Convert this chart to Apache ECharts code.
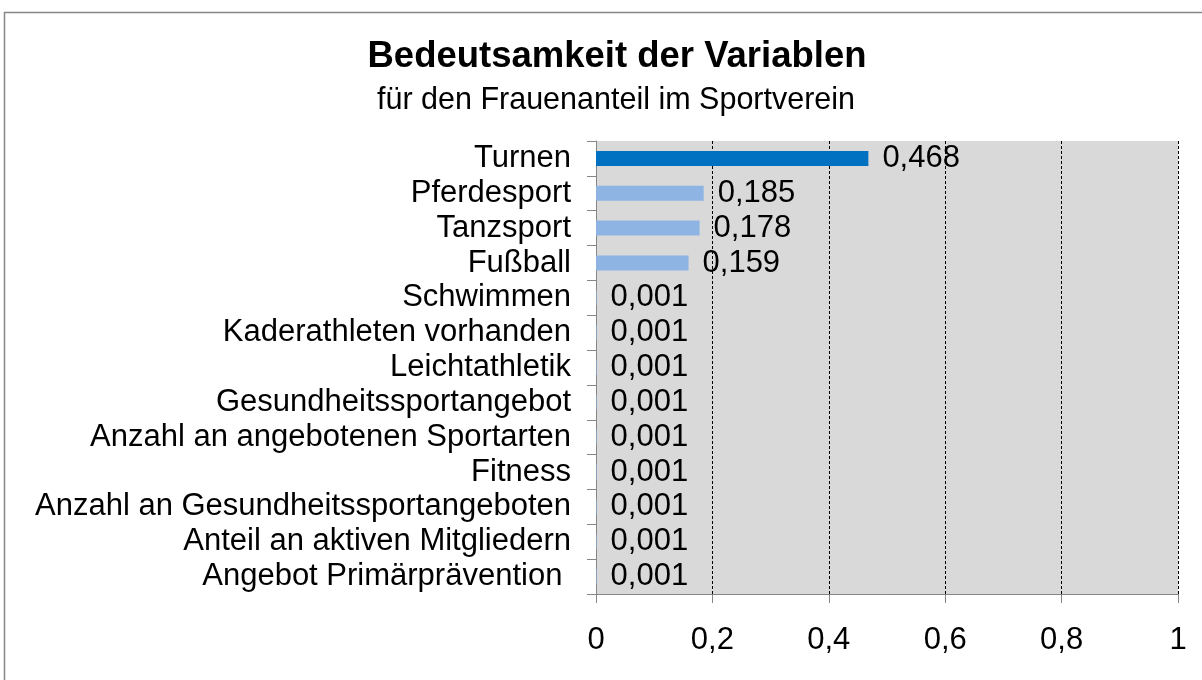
<!DOCTYPE html>
<html>
<head>
<meta charset="utf-8">
<script src="https://cdn.jsdelivr.net/npm/echarts@6/dist/echarts.min.js"></script>
<style>
html,body{margin:0;padding:0;background:#fff;}
#chart{width:1202px;height:680px;}
</style>
</head>
<body>
<div id="chart"></div>
<script>
var titleText = 'Bedeutsamkeit der Variablen';
var subtitleText = 'für den Frauenanteil im Sportverein';
var categories = ['Turnen','Pferdesport','Tanzsport','Fußball','Schwimmen','Kaderathleten vorhanden','Leichtathletik','Gesundheitssportangebot','Anzahl an angebotenen Sportarten','Fitness','Anzahl an Gesundheitssportangeboten','Anteil an aktiven Mitgliedern','Angebot Primärprävention '];
var values = [0.468,0.185,0.178,0.159,0.001,0.001,0.001,0.001,0.001,0.001,0.001,0.001,0.001];
var highlightIndex = 0;

var FONT = '"Liberation Sans", Arial, sans-serif';
var chart = echarts.init(document.getElementById('chart'), null, {renderer:'canvas'});
var option = {
  backgroundColor:'#ffffff',
  animation:false,
  graphic:[{
    type:'rect', silent:true, z:-10,
    shape:{x:4.5,y:12.5,width:1220,height:700},
    style:{fill:'none',stroke:'#868686',lineWidth:1.5}
  }],
  title:[
    {text:titleText,left:612,top:33,textAlign:'center',
     textStyle:{fontFamily:FONT,fontWeight:'bold',fontSize:36.5,color:'#000'}},
    {text:subtitleText,left:611,top:80,textAlign:'center',
     textStyle:{fontFamily:FONT,fontWeight:'normal',fontSize:30.5,color:'#000'}}
  ],
  grid:{left:596,top:141,right:24,bottom:86,show:true,backgroundColor:'#d9d9d9',borderWidth:0},
  xAxis:{
    type:'value',min:0,max:1,interval:0.2,
    axisLine:{show:true,lineStyle:{color:'#868686',width:1}},
    axisTick:{show:true,length:9,lineStyle:{color:'#868686'}},
    axisLabel:{margin:31,fontFamily:FONT,fontSize:31,color:'#000',
      formatter:function(v){return String(v).replace('.',',');}},
    splitLine:{show:true,showMinLine:false,lineStyle:{color:'#000',type:[3,2],width:1}}
  },
  yAxis:{
    type:'category',inverse:true,data:categories,
    axisLine:{show:true,lineStyle:{color:'#868686',width:1}},
    axisTick:{show:true,length:9,lineStyle:{color:'#868686'}},
    axisLabel:{interval:0,margin:25,fontFamily:FONT,fontSize:31,color:'#000'},
    splitLine:{show:false}
  },
  series:[{
    type:'bar',
    barWidth:15,
    data:values.map(function(v,i){
      return {value:v,itemStyle:{color:i===highlightIndex?'#0070c0':'#8db4e2'}};
    }),
    label:{show:true,position:'right',distance:14,fontFamily:FONT,fontSize:31,color:'#000',
      formatter:function(p){return p.value.toFixed(3).replace('.',',');}},
    z:3
  }]
};
chart.setOption(option);
</script>
</body>
</html>
